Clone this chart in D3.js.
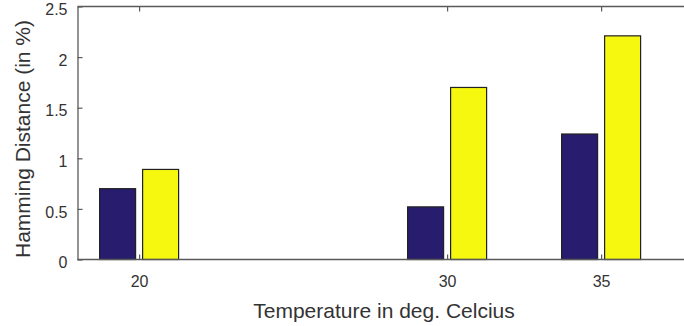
<!DOCTYPE html>
<html>
<head>
<meta charset="utf-8">
<script src="https://cdn.jsdelivr.net/npm/d3@7"></script>
<style>
  body { margin: 0; background: #fff; }
  svg { display: block; }
  text { font-family: "Liberation Sans", Arial, Helvetica, sans-serif; fill: #333; }
</style>
</head>
<body>
<svg id="svg" width="684" height="326"></svg>
<script>
const width = 684;
const height = 326;

// data
const temperatures = [20, 30, 35];
const series = ["a", "b"];
const seriesA = [0.70, 0.52, 1.24];
const seriesB = [0.89, 1.70, 2.21];
const yTicks = [0, 0.5, 1, 1.5, 2, 2.5];
const xTicks = [20, 30, 35];
const colors = ["#271c6d", "#f6f80f"];

const plotLeft = 77.5, plotTop = 6.5, plotBottom = 259.5;

let svg = d3.select("#svg");

const x = d3.scaleLinear().domain([18, 38]).range([plotLeft, plotLeft + 20 * 30.8]);
const y = d3.scaleLinear().domain([0, 2.5]).range([plotBottom, plotTop]);
const offset = d3.scaleBand().domain(series).range([-39.5, 39.5]).paddingInner(0.163);

const rows = temperatures.map((t, i) => ({ t, values: [seriesA[i], seriesB[i]] }));

// bars
const groups = svg.append("g")
  .selectAll("g")
  .data(rows)
  .join("g")
  .attr("transform", (d) => `translate(${x(d.t)},0)`);

groups.selectAll("rect")
  .data((d) => d.values.map((v, j) => ({ key: series[j], v, j })))
  .join("rect")
  .attr("x", (d) => offset(d.key))
  .attr("y", (d) => y(d.v))
  .attr("width", offset.bandwidth())
  .attr("height", (d) => plotBottom - y(d.v))
  .attr("fill", (d) => colors[d.j])
  .attr("stroke", "#222")
  .attr("stroke-width", 1.2);

// axes (box, ticks inward)
const axisColor = "#5a5a5a";

const yAxis = svg.append("g")
  .attr("transform", `translate(${plotLeft},0)`)
  .call(d3.axisLeft(y).tickValues(yTicks).tickSizeInner(-5).tickSizeOuter(0).tickPadding(10)
    .tickFormat(d3.format("")));

const xAxis = svg.append("g")
  .attr("transform", `translate(0,${plotBottom})`)
  .call(d3.axisBottom(x).tickValues(xTicks).tickSizeInner(-5).tickSizeOuter(0).tickPadding(16));

const xTop = svg.append("g")
  .attr("transform", `translate(0,${plotTop})`)
  .call(d3.axisTop(x).tickValues(xTicks).tickSizeInner(-5).tickSizeOuter(0).tickFormat(""));

[yAxis, xAxis, xTop].forEach((g) => {
  g.select(".domain").attr("stroke", axisColor).attr("stroke-width", 1.3);
  g.selectAll(".tick line").attr("stroke", axisColor).attr("stroke-width", 1.2);
  g.selectAll(".tick text")
    .attr("fill", "#3a3a3a")
    .style("font-size", "16px")
    .style("font-family", "'Liberation Sans', Arial, sans-serif");
});
yAxis.selectAll(".tick text").attr("y", 3);
xTop.select(".domain").attr("d", `M${plotLeft},0H${width + 20}`);
xAxis.select(".domain").attr("d", `M${plotLeft},0H${width + 20}`);

// axis titles
svg.append("text")
  .attr("x", 384)
  .attr("y", 318)
  .attr("text-anchor", "middle")
  .style("font-size", "21px")
  .text("Temperature in deg. Celcius");

svg.append("text")
  .attr("transform", "translate(30,139) rotate(-90)")
  .attr("text-anchor", "middle")
  .style("font-size", "21px")
  .text("Hamming Distance (in %)");
</script>
</body>
</html>
